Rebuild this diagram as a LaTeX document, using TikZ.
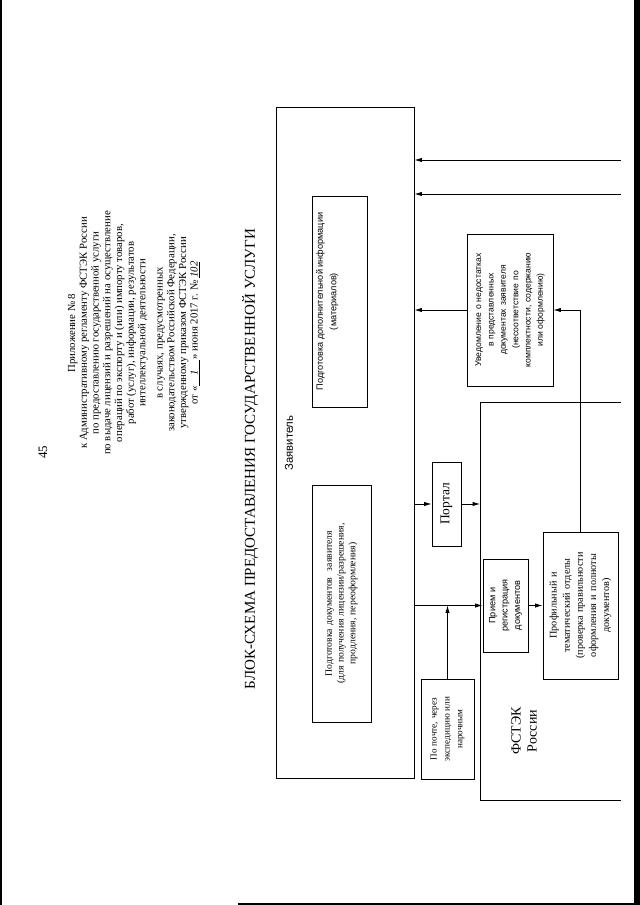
\documentclass[tikz,border=0pt]{standalone}
\usepackage{fontspec}
\setmainfont{Liberation Serif}
\setsansfont{Liberation Sans}
\usetikzlibrary{arrows.meta,calc}
\tikzstyle{block}=[draw, line width=0.8pt, rotate=90, align=center, inner sep=2pt, font=\fontsize{9}{11}\selectfont]
\tikzstyle{sblock}=[block, font=\sffamily\fontsize{8}{11.5}\selectfont]
\tikzstyle{flow}=[-{Latex[length=2.4mm,width=1.4mm]}, line width=0.7pt]
\tikzstyle{vtext}=[rotate=90, align=center, inner sep=0pt]
\newcommand{\rbox}[7][block]{% Syntax: [style] {name} {x1}{y1}{x2}{y2}{text}, corners in px
\pgfmathsetmacro{\boxlen}{(#6-#4)*0.93}
\pgfmathsetmacro{\boxthk}{(#5-#3)*0.93}
\pgfmathsetmacro{\boxtext}{\boxlen-4}
\node[#1, minimum width=\boxlen pt, minimum height=\boxthk pt, text width=\boxtext pt] (#2) at ({(#3+#5)/2},{(#4+#6)/2}) {#7};
}

\begin{document}
\begin{tikzpicture}[x=0.93pt,y=-0.93pt]
\useasboundingbox (0,0) rectangle (640,905);
% edges of the scanned sheet
\fill (0,0) rectangle (2,905);
\fill (634,0) rectangle (640,905);
\draw[line width=1.2pt] (238,904) -- (640,904);

\node[vtext, font=\fontsize{12}{14}\selectfont] (pagenum) at (43,452) {45};
\node[vtext, font=\fontsize{10}{10.9}\selectfont] (annex) at (134,333) {Приложение № 8\\
к Административному регламенту ФСТЭК России\\
по предоставлению государственной услуги\\
по выдаче лицензий и разрешений на осуществление\\
операций по экспорту и (или) импорту товаров,\\
работ (услуг), информации, результатов\\
интеллектуальной деятельности\\[5pt]
в случаях, предусмотренных\\
законодательством Российской Федерации,\\
утвержденному приказом ФСТЭК России\\
от «\underline{\quad\textit{1}\quad}» июня 2017 г. № \underline{\textit{102}}};
\node[vtext, font=\fontsize{14}{16}\selectfont] (title) at (250,459) {БЛОК-СХЕМА ПРЕДОСТАВЛЕНИЯ ГОСУДАРСТВЕННОЙ УСЛУГИ};

\rbox{zayav}{276}{107}{414}{778}{}
\node[vtext, font=\sffamily\fontsize{10.5}{12}\selectfont] (zayavlabel) at (289,443) {Заявитель};
\rbox[sblock]{addinfo}{312}{196}{367}{407}{}
\node[vtext, anchor=north, inner sep=4pt, font=\sffamily\fontsize{8.5}{12.5}\selectfont] (addinfotext) at (addinfo.north) {Подготовка дополнительной информации\\(материалов)};
\rbox{prep}{312}{485}{371}{722}{Подготовка документов\ \ заявителя\\(для получения лицензии/разрешения,\\продления, переоформления)}
\rbox[block, font=\fontsize{12.5}{14}\selectfont]{portal}{432}{462}{461}{546}{Портал}
\rbox[sblock]{uved}{467}{234}{553}{386}{Уведомление о недостатках\\в представленных\\документах заявителя\\(несоответствие по\\комплектности, содержанию\\или оформлению)}
\rbox[block, font=\fontsize{8.5}{12}\selectfont]{pochta}{421}{679}{474}{779}{По почте, через\\экспедицию или\\нарочным}
\rbox[sblock, font=\sffamily\fontsize{8.5}{11.5}\selectfont]{priem}{483}{559}{528}{652}{Прием и\\регистрация\\документов}
\rbox[block, font=\fontsize{9.5}{12.2}\selectfont]{profil}{543}{532}{618}{679}{Профильный и\\тематический отделы\\(проверка правильности\\оформления и полноты\\документов)}

% frame of FSTEK, open to the right
\coordinate (ftop) at (480,402);
\coordinate (fbot) at (480,800);
\draw[line width=0.8pt] (621,402) -- (ftop) -- (fbot) -- (621,800);
\node[vtext, font=\fontsize{13}{15}\selectfont] (fstek) at (524,731) {ФСТЭК\\России};

\foreach \y in {160,194} {
  \coordinate (in\y) at (621,\y);
  \draw[flow] (in\y) -- (in\y -| zayav.south);
}
\draw[flow] (uved.north) -- (uved.north -| zayav.south);
\draw[flow] (profil.east) -- (profil.east |- uved.south) -- (uved.south);
\draw[flow] (zayav.south |- portal.north) -- (portal.north);
\draw[flow] (portal.south) -- (portal.south -| ftop);
\draw[flow] (zayav.south |- priem.north) -- (priem.north);
\draw[flow] (pochta.east) -- (pochta.east |- priem.north);
\draw[flow] (priem.south) -- (profil.north);
\end{tikzpicture}
\end{document}
